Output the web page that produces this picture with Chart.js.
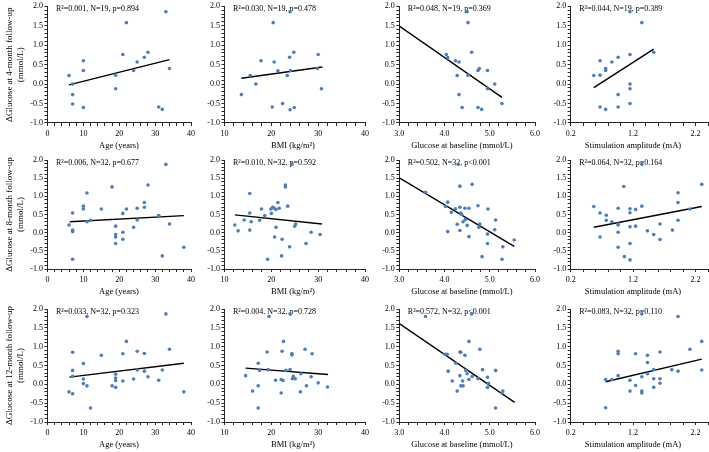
<!DOCTYPE html>
<html>
<head>
<meta charset="utf-8">
<script src="https://cdn.jsdelivr.net/npm/chart.js@4.4.1/dist/chart.umd.min.js"></script>
<style>
  html, body { margin: 0; padding: 0; background: #fff; overflow: hidden; width: 709px; height: 452px; }
  canvas { position: absolute; left: 0; top: 0; }
</style>
</head>
<body>
<script>
// ---- values ----
const xTitles = ['Age (years)', 'BMI (kg/m²)', 'Glucose at baseline (mmol/L)', 'Stimulation amplitude (mA)'];
const yTitles = [
  ['ΔGlucose at 4-month follow-up', '(mmol/L)'],
  ['ΔGlucose at 8-month follow-up', '(mmol/L)'],
  ['ΔGlucose at 12-month follow-up', '(mmol/L)']
];
const notes4 = ['R²=0.001, N=19, p=0.894', 'R²=0.030, N=19, p=0.478', 'R²=0.048, N=19, p=0.369', 'R²=0.044, N=19, p=0.389'];
const notes8 = ['R²=0.006, N=32, p=0.677', 'R²=0.010, N=32, p=0.592', 'R²=0.502, N=32, p<0.001', 'R²=0.064, N=32, p=0.164'];
const notes12 = ['R²=0.033, N=32, p=0.323', 'R²=0.004, N=32, p=0.728', 'R²=0.572, N=32, p<0.001', 'R²=0.083, N=32, p=0.110'];

// 4-month follow-up
const age4 = [6, 7, 7, 7, 10, 10, 10, 19, 19, 21, 22, 25, 24, 27, 28, 31, 32, 33, 34];
const dAge4 = [0.22, 0.00, -0.27, -0.51, 0.60, 0.35, -0.60, 0.23, -0.12, 0.76, 1.58, 0.57, 0.35, 0.69, 0.82, -0.59, -0.65, 1.86, 0.40];
const bmi4 = [13.6, 15.5, 16.7, 17.8, 20.2, 20.4, 20.6, 21.4, 22.4, 23.4, 23.9, 24.0, 24.1, 24.8, 24.9, 30.0, 29.8, 30.7, 24.0];
const dBmi4 = [-0.27, 0.22, 0.00, 0.60, -0.59, 1.58, 0.57, 0.34, -0.50, 0.22, 0.69, -0.66, 0.35, 0.82, -0.60, 0.76, 0.40, -0.12, 1.86];
const glu4 = [4.04, 4.07, 4.24, 4.32, 4.28, 4.32, 4.39, 4.52, 4.52, 4.60, 4.74, 4.77, 4.74, 4.82, 4.95, 4.95, 5.11, 5.27, 4.50];
const dGlu4 = [0.76, 0.68, 0.60, 0.57, 0.22, -0.27, -0.60, 1.58, 0.23, 0.82, 0.35, 0.40, -0.60, -0.65, 0.35, -0.12, 0.00, -0.50, 1.86];
const stim4 = [0.57, 0.67, 0.67, 0.67, 0.76, 0.76, 0.76, 0.86, 0.96, 0.96, 0.96, 1.15, 1.15, 1.15, 1.15, 1.15, 1.34, 1.53];
const dStim4 = [0.22, 0.60, 0.23, -0.59, 0.35, 0.40, -0.65, 0.57, 0.69, -0.27, -0.59, 0.76, 1.86, 0.00, -0.12, -0.50, 1.58, 0.82];

// 8-month follow-up
const age8 = [6, 7, 7, 7, 7, 10, 10, 11, 11, 12, 15, 18, 19, 19, 19, 19, 21, 21, 21, 22, 24, 25, 25, 27, 27, 28, 31, 31, 32, 33, 34, 38];
const dAge8 = [0.21, 0.54, 0.07, 0.03, -0.73, 0.73, 0.65, 1.09, 0.30, 0.34, 0.65, 1.26, 0.18, -0.05, -0.12, -0.30, 0.53, 0.01, -0.18, 0.65, 0.15, 0.67, 0.35, 0.83, 0.70, 1.31, 0.47, 0.45, -0.64, 1.88, 0.24, -0.40];
const bmi8 = [12.2, 12.9, 14.2, 15.4, 15.4, 15.4, 15.7, 17.5, 17.9, 18.6, 19.2, 19.9, 20.0, 20.3, 20.6, 21.0, 21.0, 21.4, 21.7, 20.7, 22.3, 22.2, 23.0, 23.0, 23.5, 23.9, 25.0, 25.2, 27.4, 28.5, 30.4, 24.4];
const dBmi8 = [0.21, 0.05, 0.35, 0.07, 1.08, 0.54, 0.30, 0.34, 0.65, 0.47, -0.73, 0.65, 0.53, 0.70, 0.67, 0.64, 0.15, 0.83, 0.67, -0.12, -0.18, -0.64, 1.31, 1.26, 0.73, -0.39, 0.18, 0.24, -0.30, 0.01, -0.05, 1.88];
const glu8 = [3.58, 4.02, 4.07, 4.07, 4.15, 4.24, 4.28, 4.34, 4.34, 4.36, 4.38, 4.34, 4.41, 4.45, 4.46, 4.50, 4.54, 4.54, 4.61, 4.74, 4.76, 4.78, 4.83, 4.95, 4.95, 4.96, 5.13, 5.11, 5.29, 5.27, 5.54, 4.30];
const dGlu8 = [1.11, 0.72, 0.84, 0.03, 0.56, 0.66, 0.23, 0.70, 1.28, 0.54, 0.50, 0.06, 0.30, 0.67, 0.36, 0.20, 0.67, -0.11, 1.33, 0.74, 0.15, 0.24, -0.66, -0.04, -0.30, 0.65, 0.35, 0.08, -0.39, -0.73, -0.20, 1.88];
const stim8 = [0.57, 0.67, 0.67, 0.77, 0.77, 0.86, 0.96, 0.96, 0.96, 0.96, 0.96, 1.05, 1.06, 1.15, 1.15, 1.15, 1.15, 1.15, 1.24, 1.24, 1.34, 1.34, 1.43, 1.53, 1.63, 1.63, 1.83, 1.92, 1.92, 1.92, 2.11, 2.30];
const dStim8 = [0.72, 0.54, -0.12, 0.48, 0.34, 0.30, 0.67, 0.24, 0.21, 0.01, -0.40, 1.27, -0.66, 0.66, 0.55, 0.16, -0.30, -0.75, 0.64, 0.18, 0.73, 1.88, 0.05, -0.05, 0.24, -0.19, 0.07, 1.10, 0.83, 0.34, 0.65, 1.33];

// 12-month follow-up
const age12 = [6, 7, 7, 7, 7, 10, 10, 10, 11, 11, 12, 15, 18, 19, 19, 19, 19, 21, 21, 22, 24, 25, 25, 27, 27, 28, 31, 32, 33, 34, 38];
const dAge12 = [-0.20, -0.25, 0.85, 0.37, 0.21, 0.55, 0.14, 0.02, 1.80, -0.04, -0.63, 0.77, -0.04, 0.27, 0.17, 0.10, -0.08, 0.81, 0.09, 1.14, 0.14, 0.88, 0.38, 0.82, 0.35, 0.20, 0.11, 0.38, 1.87, 0.93, -0.20];
const bmi12 = [14.5, 16.0, 17.2, 17.2, 17.2, 17.5, 19.1, 19.3, 19.5, 20.9, 22.1, 22.1, 22.3, 22.5, 22.6, 23.1, 24.0, 24.0, 24.4, 24.4, 24.5, 24.7, 25.1, 26.3, 26.2, 27.2, 27.5, 28.5, 28.7, 30.0, 32.0];
const dBmi12 = [0.23, -0.18, 0.56, -0.04, -0.63, 0.37, 0.86, 0.39, 1.80, 0.11, 0.13, -0.23, 0.88, 0.10, 1.14, 0.37, 0.39, 1.87, 0.82, 0.78, 0.15, 0.21, 0.15, 0.28, -0.20, 0.93, -0.04, 0.20, 0.81, 0.04, -0.07];
const glu12 = [3.58, 4.01, 4.06, 4.08, 4.17, 4.25, 4.28, 4.34, 4.36, 4.34, 4.36, 4.40, 4.41, 4.45, 4.47, 4.50, 4.54, 4.54, 4.61, 4.74, 4.78, 4.84, 4.95, 4.97, 4.95, 5.13, 5.13, 5.29, 5.27, 4.60];
const dGlu12 = [1.80, 0.80, 0.80, 0.35, 0.09, 0.56, -0.18, 0.86, 0.85, 0.23, -0.04, 0.09, -0.04, 0.77, 0.37, 0.28, 1.14, 0.13, 0.21, 0.15, 0.93, 0.39, 0.19, 0.03, -0.08, 0.37, -0.63, -0.18, -0.23, 1.87];
const stim12 = [0.76, 0.76, 0.96, 0.96, 0.96, 0.86, 1.15, 1.15, 1.24, 1.24, 1.34, 1.34, 1.34, 1.34, 1.43, 1.43, 1.43, 1.53, 1.53, 1.53, 1.63, 1.63, 1.63, 1.82, 1.92, 1.92, 2.11, 2.30, 2.30];
const dStim12 = [0.13, -0.62, 0.88, 0.81, 0.23, 0.13, 0.11, -0.18, 0.81, -0.03, 0.20, -0.18, -0.23, 1.87, 0.77, 0.58, 0.28, 0.39, 0.15, -0.08, 0.86, 0.15, 0.03, 0.39, 1.80, 0.35, 0.93, 1.14, 0.38];

// trend line end points (age, bmi, glucose, stimulation)
const fitX4 = [[6, 34], [13.6, 30.9], [3.0, 5.27], [0.57, 1.53]];
const fitY4 = [[-0.02, 0.63], [0.15, 0.44], [1.49, -0.34], [-0.09, 0.90]];
const fitX8 = [[6.2, 38], [12.2, 30.8], [3.0, 5.54], [0.57, 2.30]];
const fitY8 = [[0.30, 0.47], [0.49, 0.24], [1.51, -0.38], [0.15, 0.72]];
const fitX12 = [[6.1, 38], [14.5, 32.1], [3.0, 5.55], [0.76, 2.30]];
const fitY12 = [[0.19, 0.56], [0.43, 0.26], [1.61, -0.48], [0.07, 0.67]];

// ---- layout ----
const W = 712, H = 452;
const rowBox = [[5, 123], [160, 269], [309, 422]];
const colBox = [[47.5, 191], [224.5, 365], [399.3, 535], [570.7, 711.5]];
const xTitleCenter = [119, 293, 462, 633];
const xAxes = [
  { min: 0, max: 40, step: 2, major: 10, dec: 0 },
  { min: 10, max: 40, step: 2, major: 10, dec: 0 },
  { min: 3, max: 6, step: 0.2, major: 1, dec: 1 },
  { min: 0.2, max: 2.4, step: 0.2, major: 1, dec: 1 }
];
const Y_W = 25, X_H = 28;
const FONT = "'Liberation Serif', 'Times New Roman', serif";
const BLUE = '#4a7ebf';
const AXIS = '#262626';

const rows = [
  { xs: [age4, bmi4, glu4, stim4], ys: [dAge4, dBmi4, dGlu4, dStim4], fx: fitX4, fy: fitY4, notes: notes4 },
  { xs: [age8, bmi8, glu8, stim8], ys: [dAge8, dBmi8, dGlu8, dStim8], fx: fitX8, fy: fitY8, notes: notes8 },
  { xs: [age12, bmi12, glu12, stim12], ys: [dAge12, dBmi12, dGlu12, dStim12], fx: fitX12, fy: fitY12, notes: notes12 }
];

function isMajor(v, base, major) {
  const k = (v - base) / major;
  return Math.abs(k - Math.round(k)) < 1e-6;
}

const panelText = {
  id: 'panelText',
  beforeDatasetsDraw(chart) {
    const o = chart.options.plugins.panelText;
    const { ctx, chartArea } = chart;
    ctx.save();
    ctx.fillStyle = '#000';
    ctx.font = '8px ' + FONT;
    ctx.textAlign = 'left';
    ctx.textBaseline = 'middle';
    ctx.fillText(o.note, chartArea.left + 8.5, chartArea.top + 2.5);
    ctx.restore();
  },
  afterDraw(chart) {
    const o = chart.options.plugins.panelText;
    const { ctx, chartArea } = chart;
    ctx.save();
    ctx.fillStyle = '#000';
    ctx.font = '8.5px ' + FONT;
    ctx.textAlign = 'center';
    ctx.textBaseline = 'middle';
    ctx.fillText(o.xTitle, o.titleX, chartArea.bottom + 22.5);
    ctx.restore();
  }
};

rows.forEach((row, r) => {
  row.xs.forEach((xs, c) => {
    const ys = row.ys[c];
    const ax = xAxes[c];
    const [top, bottom] = rowBox[r];
    const [left, right] = colBox[c];
    const yW = c === 0 ? left : Y_W;

    const cv = document.createElement('canvas');
    cv.width = W; cv.height = H;
    cv.style.width = W + 'px'; cv.style.height = H + 'px';
    document.body.appendChild(cv);

    new Chart(cv, {
      type: 'scatter',
      data: {
        datasets: [
          {
            data: xs.map((x, i) => ({ x: x, y: ys[i] })),
            pointRadius: 1.8,
            pointBackgroundColor: BLUE,
            pointBorderWidth: 0,
            order: 0
          },
          {
            type: 'line',
            data: row.fx[c].map((x, i) => ({ x: x, y: row.fy[c][i] })),
            borderColor: '#000',
            borderWidth: 1.4,
            pointRadius: 0,
            fill: false,
            order: 1
          }
        ]
      },
      options: {
        responsive: false,
        animation: false,
        events: [],
        layout: { padding: { left: left - yW, right: W - right, top: top, bottom: H - bottom - X_H } },
        plugins: {
          legend: { display: false },
          tooltip: { enabled: false },
          panelText: { note: row.notes[c], xTitle: xTitles[c], titleX: xTitleCenter[c] }
        },
        scales: {
          x: {
            type: 'linear',
            min: ax.min, max: ax.max,
            afterFit: s => { s.height = X_H; },
            ticks: {
              stepSize: ax.step, autoSkip: false, maxRotation: 0, minRotation: 0, padding: 3,
              color: '#000', font: { family: FONT, size: 8 },
              callback: v => isMajor(v, ax.min, ax.major) ? v.toFixed(ax.dec) : ''
            },
            grid: { drawOnChartArea: false, drawTicks: true, tickLength: 3, tickColor: AXIS },
            border: { display: true, color: AXIS, width: 1 }
          },
          y: {
            type: 'linear',
            min: -1, max: 2,
            afterFit: s => { s.width = yW; },
            title: {
              display: c === 0,
              text: yTitles[r],
              color: '#000',
              font: { family: FONT, size: 9, lineHeight: 1.2 },
              padding: { top: 4.6, bottom: 0 }
            },
            ticks: {
              stepSize: 0.1, autoSkip: false, padding: 1.5,
              color: '#000', font: { family: FONT, size: 8 },
              callback: v => isMajor(v, 0, 0.5) ? v.toFixed(1) : ''
            },
            grid: { drawOnChartArea: false, drawTicks: true, tickLength: 3, tickColor: AXIS },
            border: { display: true, color: AXIS, width: 1 }
          }
        }
      },
      plugins: [panelText]
    });
  });
});
</script>
</body>
</html>
